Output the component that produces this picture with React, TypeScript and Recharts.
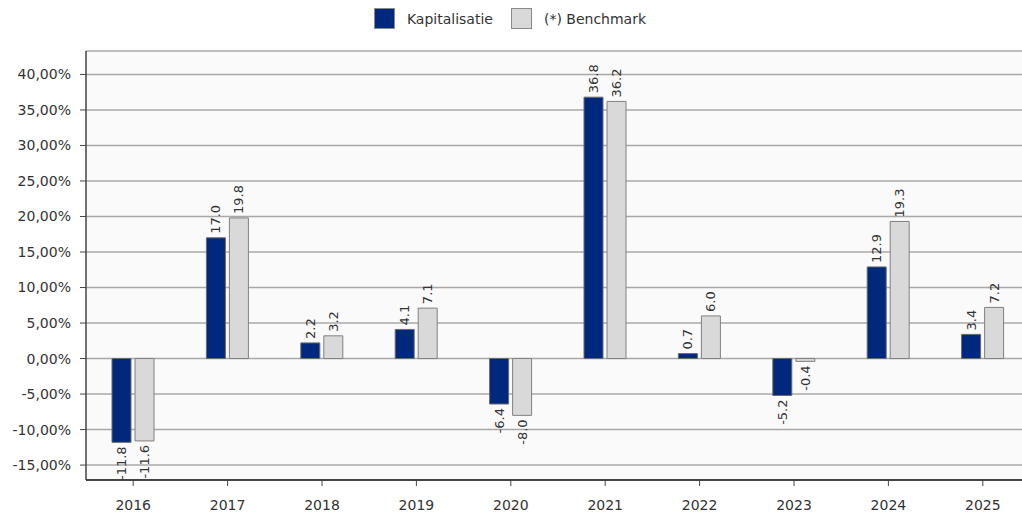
import React from 'react';
import {
  BarChart,
  Bar,
  XAxis,
  YAxis,
  CartesianGrid,
  Legend,
  LabelList,
} from 'recharts';

const years = ['2016', '2017', '2018', '2019', '2020', '2021', '2022', '2023', '2024', '2025'];
const kapitalisatie = [-11.8, 17.0, 2.2, 4.1, -6.4, 36.8, 0.7, -5.2, 12.9, 3.4];
const benchmark = [-11.6, 19.8, 3.2, 7.1, -8.0, 36.2, 6.0, -0.4, 19.3, 7.2];
const yTicks = [-15, -10, -5, 0, 5, 10, 15, 20, 25, 30, 35, 40];
const seriesOrder = ['Kapitalisatie', '(*) Benchmark'];

const data = years.map((year, i) => ({
  year,
  kapitalisatie: kapitalisatie[i],
  benchmark: benchmark[i],
}));

const NAVY = '#00287c';
const GREY = '#d9d9d9';
const FONT = '"DejaVu Sans", sans-serif';

const formatPct = (v: number) => `${v.toFixed(2).replace('.', ',')}%`;

// rotated value label above (positive) or below (negative) the bar
const ValueLabel = (props: any) => {
  const { x, y, width, height, value } = props;
  const top = Math.min(y, y + height);
  const bottom = Math.max(y, y + height);
  const cx = x + width / 2;
  const positive = value >= 0;
  const ly = positive ? top - 4 : bottom + 4;
  return (
    <text
      x={cx}
      y={ly}
      transform={`rotate(-90, ${cx}, ${ly})`}
      textAnchor={positive ? 'start' : 'end'}
      dominantBaseline="central"
      fontSize={13}
      fontFamily={FONT}
      fill="#333"
    >
      {Number(value).toFixed(1)}
    </text>
  );
};

const LegendContent = (props: any) => {
  const payload = [...(props.payload || [])].sort(
    (a: any, b: any) => seriesOrder.indexOf(a.value) - seriesOrder.indexOf(b.value)
  );
  return (
    <div style={{ display: 'flex', justifyContent: 'center', alignItems: 'center', fontFamily: FONT, fontSize: 14, color: '#333' }}>
      {payload.map((entry: any) => (
        <div key={entry.value} style={{ display: 'flex', alignItems: 'center', marginRight: 18 }}>
          <span
            style={{
              display: 'inline-block',
              width: 21,
              height: 21,
              background: entry.color,
              border: '1px solid #8a8a8a',
              boxSizing: 'border-box',
              marginRight: 12,
            }}
          />
          {entry.value}
        </div>
      ))}
    </div>
  );
};

export default function App() {
  return (
    <div style={{ width: 1022, height: 515, overflow: 'hidden', boxSizing: 'border-box', padding: '8px 0 0 8px' }}>
      <style>{'body { margin: 0; overflow: hidden; }'}</style>
      <BarChart
        width={1022}
        height={507}
        data={data}
        margin={{ top: 16, right: 0, bottom: 0, left: 0 }}
        barSize={19}
        barGap={4}
      >
        <CartesianGrid vertical={false} stroke="#a8a8a8" strokeWidth={1.5} fill="#fafafa" />
        <XAxis
          dataKey="year"
          height={35}
          axisLine={{ stroke: '#444', strokeWidth: 2 }}
          tickLine={{ stroke: '#444' }}
          tickSize={6}
          tickMargin={2}
          tick={{ fontSize: 14, fontFamily: FONT, fill: '#333', dy: 12 }}
        />
        <XAxis
          xAxisId="top"
          dataKey="year"
          orientation="top"
          height={0}
          tick={false}
          tickLine={false}
          axisLine={{ stroke: '#555', strokeWidth: 1.5 }}
        />
        <YAxis
          width={78}
          domain={[-17.1, 43.3]}
          ticks={yTicks}
          allowDataOverflow
          tickFormatter={formatPct}
          axisLine={{ stroke: '#444', strokeWidth: 1.5 }}
          tickLine={{ stroke: '#444' }}
          tickSize={6}
          tickMargin={9}
          tick={{ fontSize: 14, fontFamily: FONT, fill: '#333' }}
        />
        <Legend
          verticalAlign="top"
          height={27}
          wrapperStyle={{ top: 0 }}
          content={<LegendContent />}
        />
        <Bar dataKey="kapitalisatie" name="Kapitalisatie" fill={NAVY} stroke="#6b6b6b" isAnimationActive={false}>
          <LabelList dataKey="kapitalisatie" content={<ValueLabel />} />
        </Bar>
        <Bar dataKey="benchmark" name="(*) Benchmark" fill={GREY} stroke="#808080" isAnimationActive={false}>
          <LabelList dataKey="benchmark" content={<ValueLabel />} />
        </Bar>
      </BarChart>
    </div>
  );
}
